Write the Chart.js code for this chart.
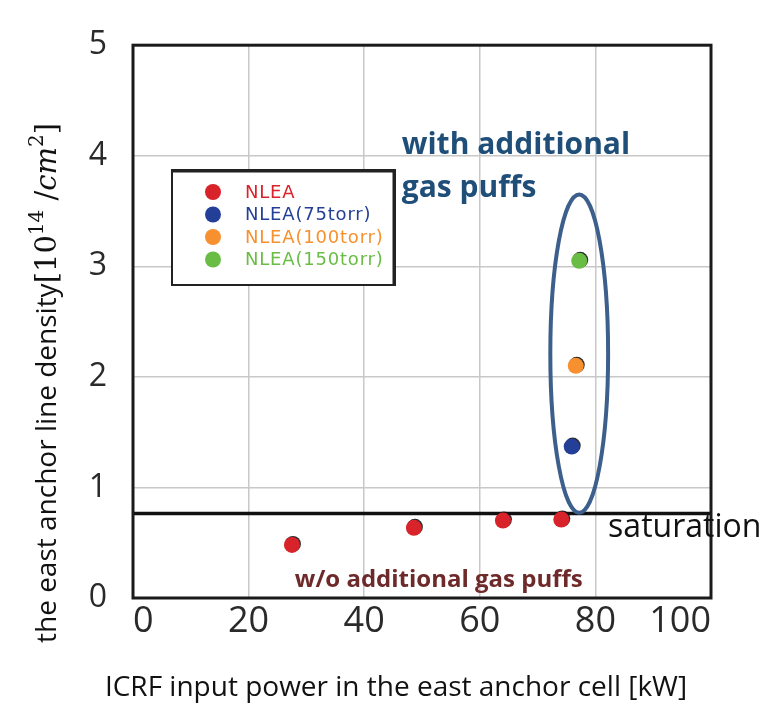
<!DOCTYPE html>
<html>
<head>
<meta charset="utf-8">
<script src="https://cdn.jsdelivr.net/npm/chart.js@4.4.0/dist/chart.umd.min.js"></script>
<style>
  html, body { margin: 0; padding: 0; background: #fff; }
  #densityChart { display: block; }
</style>
</head>
<body>
<canvas id="densityChart" width="779" height="703"></canvas>
<script>
// east anchor line density vs ICRF input power
const seriesNames = ["NLEA", "NLEA(75torr)", "NLEA(100torr)", "NLEA(150torr)"];
const seriesColors = ["#d8232a", "#243f98", "#f7902e", "#69bd45"];

// ICRF input power [kW]
const powerNlea = [27.5, 48.6, 64.0, 74.1];
const power75 = [75.9];
const power100 = [76.6];
const power150 = [77.2];

// line density [10^14 /cm^2]
const densityNlea = [0.48, 0.635, 0.70, 0.71];
const density75 = [1.37];
const density100 = [2.10];
const density150 = [3.05];

const saturationLevel = 0.765;

const xTicks = [0, 20, 40, 60, 80, 100];
const yTicks = [0, 1, 2, 3, 4, 5];

const toPoints = (xs, ys) => xs.map((x, i) => ({ x, y: ys[i] }));

const seriesPoints = [
    toPoints(powerNlea, densityNlea),
    toPoints(power75, density75),
    toPoints(power100, density100),
    toPoints(power150, density150)
];

const scatterSets = seriesPoints.map((pts, i) => ({
    label: seriesNames[i],
    data: pts,
    backgroundColor: seriesColors[i],
    borderWidth: 0,
    pointRadius: 8,
    pointHoverRadius: 8,
    order: 1
}));

const saturationSet = {
    type: "line",
    label: "saturation",
    data: [{ x: 0, y: saturationLevel }, { x: 100, y: saturationLevel }],
    borderColor: "#111",
    borderWidth: 3.5,
    pointRadius: 0,
    order: 5
};

// dark edge on the dots
const dotShadow = {
    id: "dotShadow",
    beforeDatasetDraw(chart, args) {
        if (args.meta.type === "line") return;
        const ctx = chart.ctx;
        ctx.save();
        ctx.shadowColor = "rgba(20,20,20,0.9)";
        ctx.shadowOffsetX = 1;
        ctx.shadowOffsetY = -1;
        ctx.shadowBlur = 0;
    },
    afterDatasetDraw(chart, args) {
        if (args.meta.type === "line") return;
        chart.ctx.restore();
    }
};

function drawYTitle(ctx) {
    const parts = [
        { t: "the east anchor line density", font: '28px "Open Sans"', dy: 0 },
        { t: "[10", font: '29px "DejaVu Serif"', dy: 0 },
        { t: "14", font: '20px "DejaVu Serif"', dy: -13 },
        { t: " /", font: '29px "DejaVu Serif"', dy: 0 },
        { t: "cm", font: 'italic 29px "DejaVu Serif"', dy: 0 },
        { t: "2", font: '20px "DejaVu Serif"', dy: -13 },
        { t: "]", font: '29px "DejaVu Serif"', dy: 0 }
    ];
    ctx.save();
    ctx.translate(56, 643);
    ctx.rotate(-Math.PI / 2);
    ctx.fillStyle = "#111";
    ctx.textBaseline = "alphabetic";
    ctx.textAlign = "left";
    let x = 0;
    parts.forEach(p => {
        ctx.font = p.font;
        ctx.fillText(p.t, x, p.dy);
        x += ctx.measureText(p.t).width;
    });
    ctx.restore();
}

const overlay = {
    id: "overlay",
    afterDatasetsDraw(chart) {
        const { ctx, chartArea: a, scales: { x, y } } = chart;

        // plot frame
        ctx.save();
        ctx.strokeStyle = "#1a1a1a";
        ctx.lineWidth = 3;
        ctx.strokeRect(a.left, a.top, a.right - a.left, a.bottom - a.top);

        // ellipse around the gas-puff shots
        const cx = x.getPixelForValue(77.2), cy = y.getPixelForValue(2.21);
        const rx = x.getPixelForValue(77.2 + 5.0) - cx;
        const ry = cy - y.getPixelForValue(2.21 + 1.44);
        ctx.beginPath();
        ctx.ellipse(cx, cy, rx, ry, 0, 0, Math.PI * 2);
        ctx.strokeStyle = "#3c5f8c";
        ctx.lineWidth = 4;
        ctx.stroke();

        // annotations
        ctx.textBaseline = "middle";
        ctx.textAlign = "left";
        ctx.fillStyle = "#1f4e79";
        ctx.font = 'bold 30px "Open Sans"';
        ctx.fillText("with additional", x.getPixelForValue(46.5), y.getPixelForValue(4.09));
        ctx.fillText("gas puffs", x.getPixelForValue(46.5), y.getPixelForValue(3.70));

        ctx.fillStyle = "#111";
        ctx.font = '32px "Open Sans"';
        ctx.fillText("saturation", x.getPixelForValue(82.2), y.getPixelForValue(0.635));

        ctx.fillStyle = "#6e2a2a";
        ctx.font = 'bold 24px "Open Sans"';
        ctx.fillText("w/o additional gas puffs", x.getPixelForValue(28.0), y.getPixelForValue(0.157));

        // legend box
        const lx = 172, ly = 170, lw = 223, lh = 115;
        ctx.fillStyle = "#fff";
        ctx.fillRect(lx, ly, lw, lh);
        ctx.strokeStyle = "#222";
        ctx.lineWidth = 2;
        ctx.strokeRect(lx, ly, lw, lh);
        ctx.lineWidth = 3;
        ctx.beginPath();
        ctx.moveTo(lx, ly + 1);
        ctx.lineTo(lx + lw - 1, ly + 1);
        ctx.lineTo(lx + lw - 1, ly + lh);
        ctx.stroke();
        ctx.font = '18px "DejaVu Sans"';
        ctx.letterSpacing = "0.8px";
        chart.data.datasets.forEach((ds, i) => {
            if (ds.type === "line") return;
            const rowY = ly + 22 + i * 22.5;
            ctx.fillStyle = ds.backgroundColor;
            ctx.beginPath();
            ctx.arc(lx + 41, rowY, 8, 0, Math.PI * 2);
            ctx.fill();
            ctx.fillText(ds.label, lx + 73, rowY + 1);
        });
        ctx.letterSpacing = "0px";
        ctx.restore();
    },
    afterDraw(chart) {
        const ctx = chart.ctx;
        drawYTitle(ctx);
        ctx.save();
        ctx.fillStyle = "#111";
        ctx.font = '28px "Open Sans"';
        ctx.textAlign = "center";
        ctx.textBaseline = "middle";
        ctx.fillText("ICRF input power in the east anchor cell [kW]", 396, 688);
        ctx.restore();
    }
};

new Chart(document.getElementById("densityChart"), {
    type: "scatter",
    data: {
        datasets: [...scatterSets, saturationSet]
    },
    options: {
        responsive: false,
        animation: false,
        layout: {
            padding: { left: 0, right: 68, top: 23, bottom: 0 }
        },
        plugins: {
            legend: { display: false },
            tooltip: { enabled: false }
        },
        scales: {
            x: {
                type: "linear",
                min: 0,
                max: 100,
                afterBuildTicks: s => { s.ticks = xTicks.map(v => ({ value: v })); },
                afterFit: s => { s.height = 105; },
                grid: { color: "#c8c8c8", lineWidth: 1.5, drawTicks: false },
                border: { display: false },
                ticks: {
                    align: "inner",
                    padding: 2,
                    color: "#2a2a2a",
                    font: { family: "Open Sans", size: 36 }
                }
            },
            y: {
                type: "linear",
                min: 0,
                max: 5,
                afterBuildTicks: s => { s.ticks = yTicks.map(v => ({ value: v })); },
                afterFit: s => { s.width = 133; },
                grid: { color: "#c8c8c8", lineWidth: 1.5, drawTicks: false },
                border: { display: false },
                ticks: {
                    padding: 26,
                    color: "#2a2a2a",
                    font: { family: "Open Sans", size: 32 }
                }
            }
        }
    },
    plugins: [dotShadow, overlay]
});
</script>
</body>
</html>
